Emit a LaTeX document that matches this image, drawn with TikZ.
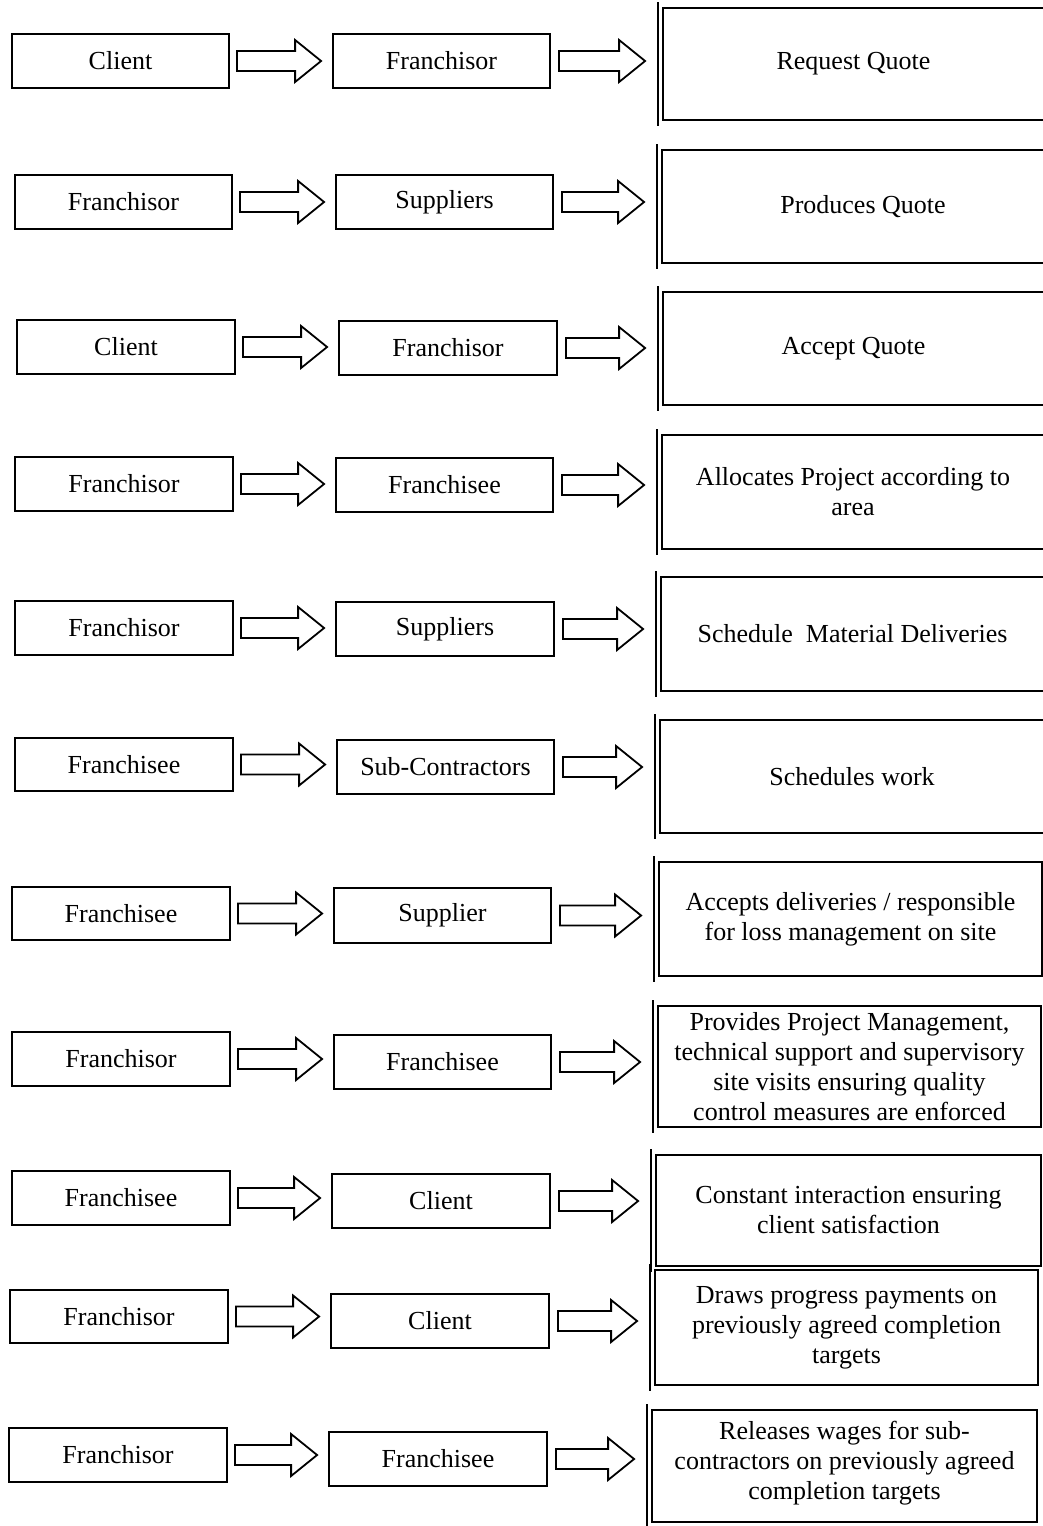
\documentclass[tikz,border=0pt]{standalone}
\usepackage{fontspec}
\setmainfont{Liberation Serif}
\usetikzlibrary{calc}
\tikzset{
  lw/.style={line width=0.9pt, draw=black},
  sbox/.style={lw, rectangle, inner sep=0pt, font=\fontsize{13pt}{15pt}\selectfont},
  rbox/.style={lw, rectangle, inner sep=0pt, align=center, font=\fontsize{13pt}{15pt}\selectfont},
  arrowline/.style={lw, line join=miter},
}
% box from corner (x1,y1) to (x2,y2) in px units
\newcommand\mkbox[7]{%
  \pgfmathsetmacro\bcx{(#3+#5)/2}\pgfmathsetmacro\bcy{(#4+#6)/2}%
  \pgfmathsetmacro\bw{(#5-#3)/2}\pgfmathsetmacro\bh{(#6-#4)/2}%
  \node[#2, minimum width=\bw pt, minimum height=\bh pt] (#1) at (\bcx,\bcy) {#7};}
\newcommand\blkarrow[4]{%
  \draw[arrowline] let \p1=(#1.east), \p2=(#2.west) in
  ({\x1+#3},{\y1+5pt}) -- ({\x2-#4-13pt},{\y1+5pt}) -- ({\x2-#4-13pt},{\y1+10.5pt})
  -- ({\x2-#4},\y1) -- ({\x2-#4-13pt},{\y1-10.5pt}) -- ({\x2-#4-13pt},{\y1-5pt})
  -- ({\x1+#3},{\y1-5pt}) -- cycle;}
\newcommand\leftbar[1]{%
  \draw[lw] ([xshift=-2pt,yshift=2.5pt]#1.north west) -- ([xshift=-2pt,yshift=-2.5pt]#1.south west);}
\newcommand\rowitem[7]{%
  \mkbox{l#1}{sbox}#5{#2}
  \mkbox{m#1}{sbox}#6{#3}
  \mkbox{r#1}{rbox}#7{#4}
  \leftbar{r#1}
  \blkarrow{l#1}{m#1}{3.5pt}{5.5pt}
  \blkarrow{m#1}{r#1}{4pt}{8.5pt}}
\begin{document}
\begin{tikzpicture}[x=0.5pt,y=-0.5pt]
\useasboundingbox (0,0) rectangle (1043,1526);
\clip (0,0) rectangle (1043,1526);
\fill[white] (0,0) rectangle (1043,1526);

\rowitem{1}{Client}{Franchisor}{Request Quote}
  {{12}{34}{229}{88}}{{333}{34}{550}{88}}{{663}{8}{1044}{120}}
\rowitem{2}{Franchisor}{Suppliers}{\hspace*{10pt}Produces Quote}
  {{15}{175}{232}{229}}{{336}{175}{553}{229}}{{662}{150}{1044}{263}}
\rowitem{3}{Client}{Franchisor}{Accept Quote}
  {{17}{320}{235}{374}}{{339}{321}{557}{375}}{{663}{292}{1044}{405}}
\rowitem{4}{Franchisor}{Franchisee}{Allocates Project according to\\area}
  {{15}{457}{233}{511}}{{336}{458}{553}{512}}{{662}{435}{1044}{549}}
\rowitem{5}{Franchisor}{Suppliers}{Schedule~ Material Deliveries}
  {{15}{601}{233}{655}}{{336}{602}{554}{656}}{{661}{577}{1044}{691}}
\rowitem{6}{Franchisee}{Sub-Contractors}{Schedules work}
  {{15}{738}{233}{791}}{{337}{740}{554}{794}}{{660}{720}{1044}{833}}
\rowitem{7}{Franchisee}{Supplier}{Accepts deliveries / responsible\\for loss management on site}
  {{12}{887}{230}{940}}{{334}{888}{551}{943}}{{659}{862}{1042}{976}}
\rowitem{8}{Franchisor}{Franchisee}{Provides Project Management,\\technical support and supervisory\\site visits ensuring quality\\control measures are enforced}
  {{12}{1032}{230}{1086}}{{334}{1035}{551}{1089}}{{658}{1006}{1041}{1127}}
\rowitem{9}{Franchisee}{Client}{Constant interaction ensuring\\client satisfaction}
  {{12}{1171}{230}{1225}}{{332}{1174}{550}{1228}}{{656}{1155}{1041}{1266}}
\rowitem{10}{Franchisor}{Client}{Draws progress payments on\\previously agreed completion\\targets}
  {{10}{1290}{228}{1343}}{{331}{1294}{549}{1348}}{{655}{1270}{1038}{1385}}
\rowitem{11}{Franchisor}{Franchisee}{\\[-9pt]Releases wages for sub-\\contractors on previously agreed\\completion targets}
  {{9}{1428}{227}{1482}}{{329}{1432}{547}{1486}}{{652}{1410}{1037}{1522}}
\end{tikzpicture}
\end{document}
